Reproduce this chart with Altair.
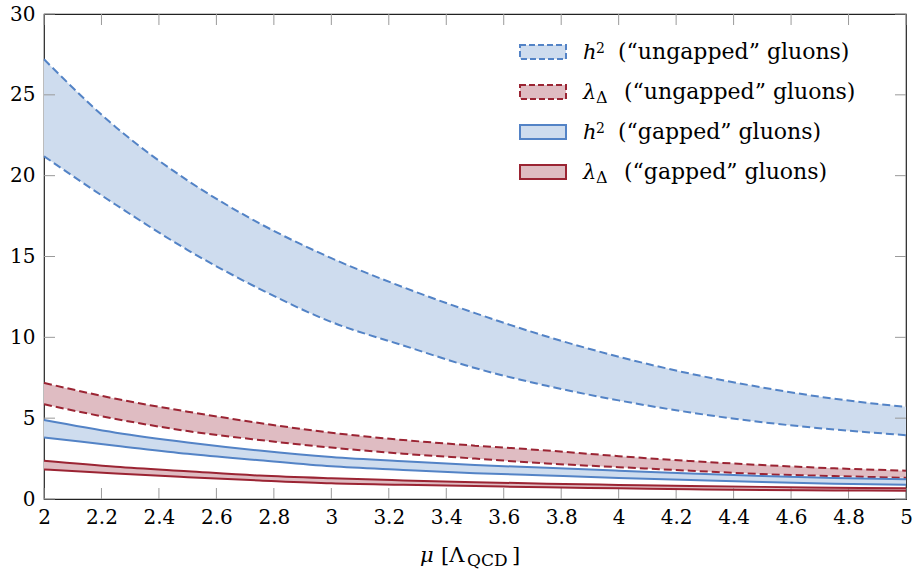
import altair as alt
import pandas as pd

# Renormalisation scale mu in units of Lambda_QCD
mu = [2.0, 2.25, 2.5, 2.75, 3.0, 3.25, 3.5, 3.75, 4.0, 4.25, 4.5, 4.75, 5.0]

# h^2 band, "ungapped" gluons
h2_ungapped_hi = [27.2, 23.0, 19.7, 17.05, 14.9, 13.1, 11.5, 10.05, 8.8, 7.75, 6.9, 6.2, 5.7]
h2_ungapped_lo = [21.2, 18.2, 15.4, 13.0, 10.95, 9.5, 8.1, 7.0, 6.1, 5.35, 4.75, 4.3, 3.95]
# lambda_Delta band, "ungapped" gluons
lam_ungapped_hi = [7.18, 6.2, 5.4, 4.7, 4.1, 3.65, 3.3, 3.0, 2.65, 2.35, 2.1, 1.9, 1.75]
lam_ungapped_lo = [5.86, 4.95, 4.2, 3.65, 3.18, 2.8, 2.5, 2.2, 1.97, 1.75, 1.54, 1.42, 1.31]
# h^2 band, "gapped" gluons
h2_gapped_hi = [4.88, 4.1, 3.5, 3.0, 2.6, 2.33, 2.1, 1.93, 1.75, 1.57, 1.42, 1.3, 1.22]
h2_gapped_lo = [3.8, 3.3, 2.8, 2.4, 2.02, 1.8, 1.6, 1.45, 1.3, 1.17, 1.05, 0.95, 0.88]
# lambda_Delta band, "gapped" gluons
lam_gapped_hi = [2.37, 2.0, 1.72, 1.45, 1.28, 1.15, 1.04, 0.95, 0.87, 0.8, 0.75, 0.7, 0.66]
lam_gapped_lo = [1.83, 1.57, 1.35, 1.15, 0.97, 0.88, 0.8, 0.72, 0.66, 0.6, 0.56, 0.53, 0.51]

x_ticks = [round(2.0 + 0.2 * i, 1) for i in range(16)]
y_ticks = [0, 5, 10, 15, 20, 25, 30]

W, H = 862, 485
LEFT, TOP = 44, 14
FONT = "DejaVu Serif"
BLUE, BLUE_FILL = "#5383c6", "#cedcee"
RED, RED_FILL = "#9b2433", "#dfbcc2"
DASH = [8, 4]

x_scale = alt.Scale(domain=[2, 5], nice=False, zero=False)
y_scale = alt.Scale(domain=[0, 30], nice=False, zero=True)
x_axis = alt.Axis(values=x_ticks, format="~g", title=None, grid=False, domain=False,
                  ticks=False, tickSize=0, labelPadding=8, labelFlush=False,
                  labelFont=FONT, labelFontSize=20, labelColor="black")
y_axis = alt.Axis(values=y_ticks, title=None, grid=False, domain=False,
                  ticks=False, tickSize=0, labelPadding=9,
                  labelFont=FONT, labelFontSize=20, labelColor="black")


def xe(field):
    return alt.X(f"{field}:Q", scale=x_scale, axis=x_axis)


def ye(field):
    return alt.Y(f"{field}:Q", scale=y_scale, axis=y_axis)


bands = [
    (h2_ungapped_lo, h2_ungapped_hi, BLUE, BLUE_FILL, DASH),
    (lam_ungapped_lo, lam_ungapped_hi, RED, RED_FILL, DASH),
    (h2_gapped_lo, h2_gapped_hi, BLUE, BLUE_FILL, None),
    (lam_gapped_lo, lam_gapped_hi, RED, RED_FILL, None),
]

fills, lines = [], []
for lo, hi, col, fill, dash in bands:
    df = pd.DataFrame({"mu": mu, "lo": lo, "hi": hi})
    fills.append(
        alt.Chart(df).mark_area(color=fill, opacity=1, interpolate="monotone")
        .encode(x=xe("mu"), y=ye("hi"), y2="lo")
    )
    for f in ("hi", "lo"):
        kw = dict(color=col, strokeWidth=2, interpolate="monotone")
        if dash:
            kw["strokeDash"] = dash
        lines.append(alt.Chart(df).mark_line(**kw).encode(x=xe("mu"), y=ye(f)))

# inward tick marks on all four sides
xt = pd.DataFrame({"v": x_ticks})
yt = pd.DataFrame({"v": y_ticks})
tick_style = dict(color="#9a9a9a", strokeWidth=1)
ticks = [
    alt.Chart(xt).mark_rule(**tick_style).encode(x=xe("v"), y=alt.value(H), y2=alt.value(H - 11)),
    alt.Chart(xt).mark_rule(**tick_style).encode(x=xe("v"), y=alt.value(0), y2=alt.value(11)),
    alt.Chart(yt).mark_rule(**tick_style).encode(y=ye("v"), x=alt.value(0), x2=alt.value(11)),
    alt.Chart(yt).mark_rule(**tick_style).encode(y=ye("v"), x=alt.value(W - 11), x2=alt.value(W)),
]

one = pd.DataFrame({"k": [0]})


def txt(s, px, py, size=20, style="normal"):
    return alt.Chart(one).mark_text(
        text=s, font=FONT, fontSize=size, fontStyle=style, align="left",
        baseline="alphabetic", color="black"
    ).encode(x=alt.value(px - LEFT), y=alt.value(py - TOP))


# legend
legend_rows = [
    ("h", "2", "(“ungapped” gluons)", BLUE, BLUE_FILL, DASH),
    ("λ", "Δ", "(“ungapped” gluons)", RED, RED_FILL, DASH),
    ("h", "2", "(“gapped” gluons)", BLUE, BLUE_FILL, None),
    ("λ", "Δ", "(“gapped” gluons)", RED, RED_FILL, None),
]
legend = []
for i, (sym, idx, rest, col, fill, dash) in enumerate(legend_rows):
    cy = 52 + 40 * i
    kw = dict(fill=fill, stroke=col, strokeWidth=2)
    if dash:
        kw["strokeDash"] = [6, 3]
    legend.append(
        alt.Chart(one).mark_rect(**kw).encode(
            x=alt.value(520 - LEFT), x2=alt.value(566 - LEFT),
            y=alt.value(cy - 7 - TOP), y2=alt.value(cy + 7 - TOP))
    )
    base = 59 + 40 * i
    legend.append(txt(sym, 583, base, 21, "italic"))
    if idx == "2":
        legend.append(txt(idx, 596, base - 6, 14))
        legend.append(txt(rest, 618, base, 22))
    else:
        legend.append(txt(idx, 596, base + 4, 16))
        legend.append(txt(rest, 624, base, 22))

# x-axis title: mu [Lambda_QCD]
title = [
    txt("μ", 420, 562, 21, "italic"),
    txt("[Λ", 441, 562, 21),
    txt("QCD", 467, 566, 17),
    txt("]", 512, 562, 21),
]

chart = alt.layer(*fills, *ticks, *lines, *legend, *title).properties(
    width=W, height=H,
    background="white",
    autosize=alt.AutoSizeParams(type="none"),
    padding={"left": LEFT, "top": TOP, "right": 914 - LEFT - W, "bottom": 571 - TOP - H},
).configure_view(stroke="#222222", strokeWidth=1.2)

chart.save("out.html", embed_options={"renderer": "svg", "actions": False})
